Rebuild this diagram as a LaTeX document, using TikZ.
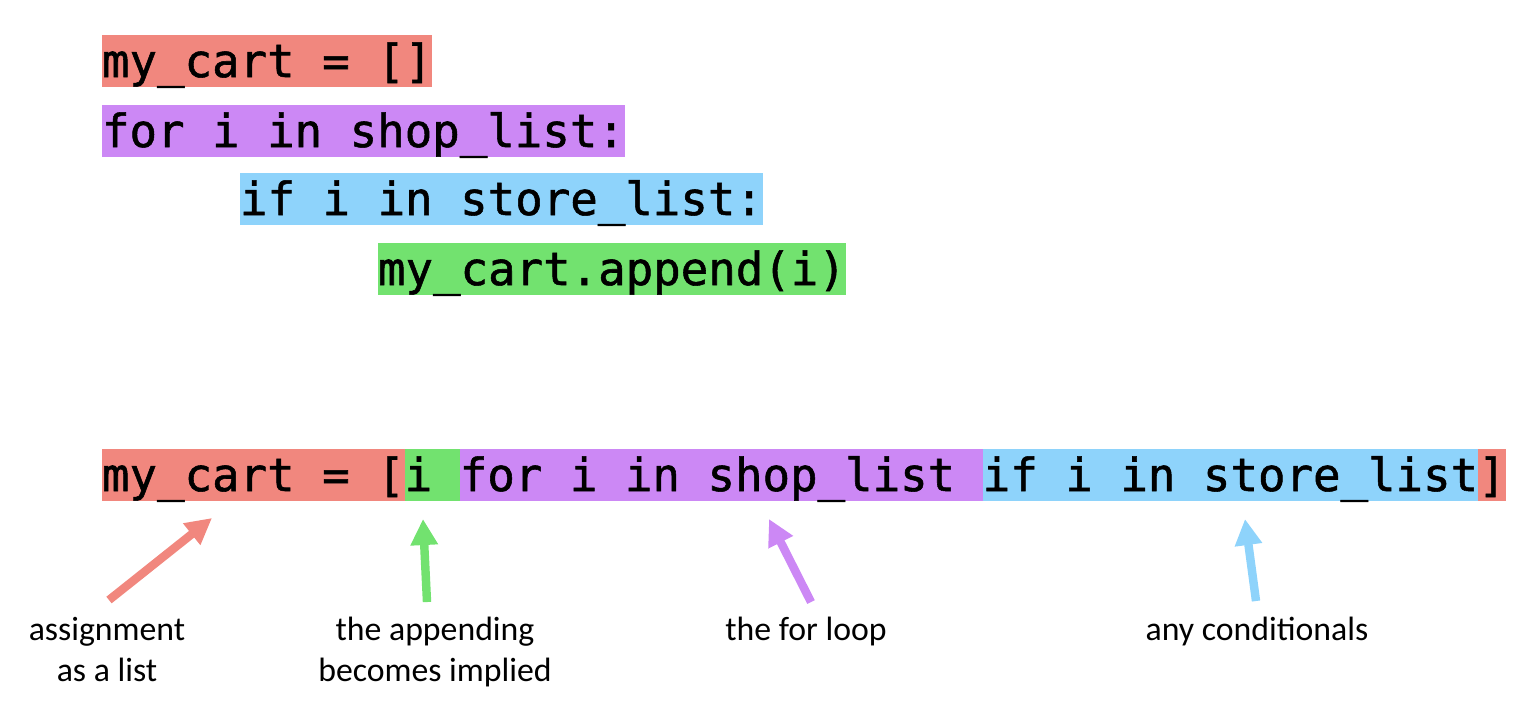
\documentclass[tikz,border=0pt]{standalone}
\usepackage{fontspec}
\setmainfont{Carlito}
\newfontfamily\codefamily[FakeBold=1.2]{DejaVu Sans Mono}
\usetikzlibrary{arrows.meta, positioning}
\definecolor{cartred}{RGB}{241,135,126}
\definecolor{looppurple}{RGB}{204,136,245}
\definecolor{condblue}{RGB}{142,211,251}
\definecolor{addgreen}{RGB}{114,226,111}
\tikzset{
    x=0.01cm, y=-0.01cm,
    code/.style ={font=\codefamily\fontsize{13}{15}\selectfont, inner xsep=0pt, inner ysep=0pt, outer sep=0pt,
                  text height=11.95pt, text depth=2.85pt, anchor=north west}, % one highlighted piece of code
    note/.style ={font=\fontsize{9.6}{11.66}\selectfont, align=center, anchor=base}, % base is the last line
    pointer/.style={-{Triangle[length=7.4pt, width=7.4pt]}, line width=2.4pt} % thick arrow up to the code
}
\begin{document}
\begin{tikzpicture}
    \useasboundingbox (0,0) rectangle (1534,726);
    % the loop written out line by line
    \node[code, fill=cartred] (init) at (102,35) {my\_cart = []};
    \node[code, fill=looppurple] (loop) at (102,105) {for i in shop\_list:};
    \node[code, fill=condblue] (cond) at (240,173) {if i in store\_list:};
    \node[code, fill=addgreen] (add) at (378,243) {my\_cart.append(i)};

    % the same as one comprehension
    \node[code, fill=cartred] (asg) at (102,449) {my\_cart = [};
    \node[code, fill=addgreen] (item) [right =0pt of asg] {i\ \null};
    \node[code, fill=looppurple] (iter) [right =0pt of item] {for i in shop\_list\ \null};
    \node[code, fill=condblue] (filt) [right =0pt of iter] {if i in store\_list};
    \node[code, fill=cartred] (close) [right =0pt of filt] {]};

    % labels under the comprehension
    \node[note] (nasg) at (107,681) {assignment\\as a list};
    \node[note] (nitem) at (435,681) {the appending\\becomes implied};
    \node[note] (niter) at (806,640) {the for loop};
    \node[note] (nfilt) at (1257,640) {any conditionals};

    \coordinate (asgtail) at (109,600);  \coordinate (asgtip) at (212,518);
    \coordinate (itemtail) at (427,602); \coordinate (itemtip) at (423,519);
    \coordinate (itertail) at (811,602); \coordinate (itertip) at (769,519);
    \coordinate (filttail) at (1256,601); \coordinate (filttip) at (1245,519);

    \draw[pointer, cartred] (asgtail) -- (asgtip);
    \draw[pointer, addgreen] (itemtail) -- (itemtip);
    \draw[pointer, looppurple] (itertail) -- (itertip);
    \draw[pointer, condblue] (filttail) -- (filttip);
\end{tikzpicture}
\end{document}
